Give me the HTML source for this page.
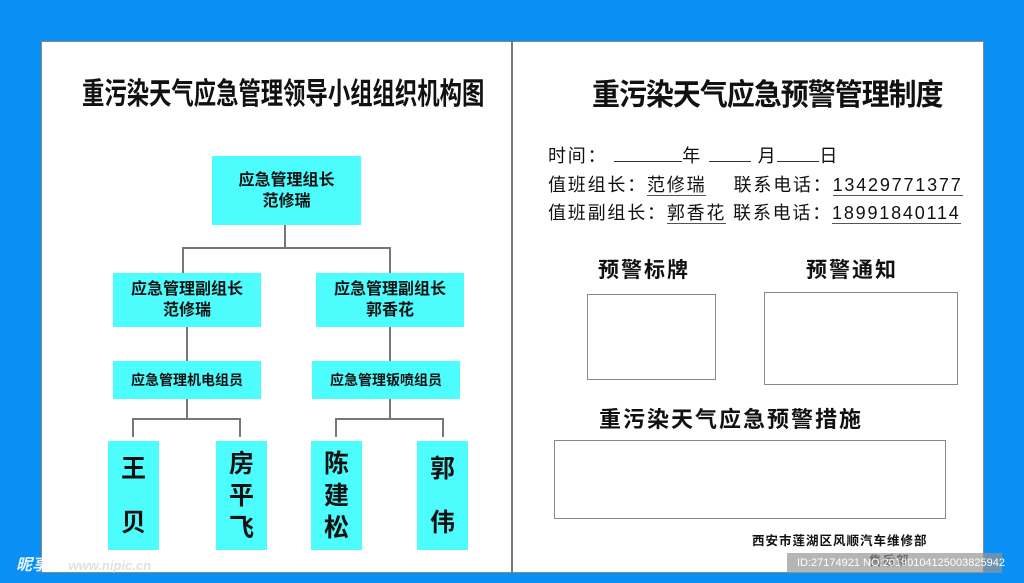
<!DOCTYPE html>
<html><head><meta charset="utf-8"><style>
*{margin:0;padding:0;box-sizing:border-box}
body{width:1024px;height:583px;background:#0a90f5;position:relative;overflow:hidden;font-family:"Liberation Sans","Noto Sans CJK SC",sans-serif;color:#111}
.a{position:absolute}
.w{left:41px;top:41px;width:943px;height:532px;background:#fff;border:1px solid #888}
.c{background:#4dfcfd;font-weight:bold;display:flex;align-items:center;justify-content:center;text-align:center;font-size:16px;line-height:21px}
.l{background:#777}
.b{border:1.5px solid #888;background:#fff}
.t{font-weight:bold;white-space:nowrap}
.n{font-size:25px;line-height:32px;flex-direction:column}
.u{border-bottom:1.5px solid #555}
.r{font-size:18px;line-height:24px;white-space:nowrap;letter-spacing:1.8px}
</style></head><body>
<div class="a w"></div>
<div class="a l" style="left:511px;top:41px;width:1.5px;height:532px"></div>

<div class="a t" style="left:82px;top:69px;font-size:30px;transform:scaleX(0.745);transform-origin:left">重污染天气应急管理领导小组组织机构图</div>
<div class="a t" style="left:592px;top:70px;font-size:30px;letter-spacing:-1px;transform:scaleX(0.93);transform-origin:left">重污染天气应急预警管理制度</div>

<div class="a c" style="left:212px;top:156px;width:149px;height:69px">应急管理组长<br>范修瑞</div>
<div class="a l" style="left:284px;top:225px;width:1.5px;height:23px"></div>
<div class="a l" style="left:182px;top:247px;width:208px;height:1.5px"></div>
<div class="a l" style="left:182px;top:247px;width:1.5px;height:26px"></div>
<div class="a l" style="left:389px;top:247px;width:1.5px;height:26px"></div>
<div class="a c" style="left:113px;top:273px;width:148px;height:54px">应急管理副组长<br>范修瑞</div>
<div class="a c" style="left:316px;top:273px;width:148px;height:54px">应急管理副组长<br>郭香花</div>
<div class="a l" style="left:186px;top:327px;width:1.5px;height:34px"></div>
<div class="a l" style="left:389px;top:327px;width:1.5px;height:34px"></div>
<div class="a c" style="left:113px;top:361px;width:148px;height:38px;font-size:14px">应急管理机电组员</div>
<div class="a c" style="left:312px;top:361px;width:148px;height:38px;font-size:14px">应急管理钣喷组员</div>
<div class="a l" style="left:186px;top:399px;width:1.5px;height:20px"></div>
<div class="a l" style="left:389px;top:399px;width:1.5px;height:20px"></div>
<div class="a l" style="left:132px;top:418px;width:108px;height:1.5px"></div>
<div class="a l" style="left:335px;top:418px;width:108px;height:1.5px"></div>
<div class="a l" style="left:132px;top:418px;width:1.5px;height:19px"></div>
<div class="a l" style="left:239px;top:418px;width:1.5px;height:19px"></div>
<div class="a l" style="left:335px;top:418px;width:1.5px;height:19px"></div>
<div class="a l" style="left:442px;top:418px;width:1.5px;height:19px"></div>
<div class="a c n" style="left:108px;top:441px;width:51px;height:109px"><span>王</span><span style="margin-top:22px">贝</span></div>
<div class="a c n" style="left:216px;top:441px;width:51px;height:109px">房<br>平<br>飞</div>
<div class="a c n" style="left:311px;top:441px;width:51px;height:109px">陈<br>建<br>松</div>
<div class="a c n" style="left:417px;top:441px;width:51px;height:109px"><span>郭</span><span style="margin-top:22px">伟</span></div>

<div class="a r" style="left:548px;top:144px">时间： <span style="display:inline-block;width:68px;border-bottom:1.5px solid #333;height:18px"></span>年 <span style="display:inline-block;width:42px;border-bottom:1.5px solid #333;height:18px"></span> 月<span style="display:inline-block;width:42px;border-bottom:1.5px solid #333;height:18px"></span>日</div>
<div class="a r" style="left:548px;top:173px">值班组长：<span class="u">范修瑞</span>&nbsp;&nbsp;&nbsp; 联系电话：<span class="u">13429771377</span></div>
<div class="a r" style="left:548px;top:201px">值班副组长：<span class="u">郭香花</span> 联系电话：<span class="u">18991840114</span></div>

<div class="a t" style="left:598px;top:254px;font-size:21px;letter-spacing:2px">预警标牌</div>
<div class="a t" style="left:806px;top:254px;font-size:21px;letter-spacing:2px">预警通知</div>
<div class="a b" style="left:587px;top:294px;width:129px;height:86px"></div>
<div class="a b" style="left:764px;top:292px;width:194px;height:93px"></div>
<div class="a t" style="left:599px;top:402px;font-size:22px;letter-spacing:2px">重污染天气应急预警措施</div>
<div class="a b" style="left:554px;top:440px;width:392px;height:79px"></div>
<div class="a t" style="left:752px;top:530px;font-size:12.5px;letter-spacing:1px">西安市莲湖区风顺汽车维修部</div>
<div class="a t" style="left:869px;top:550px;font-size:12.5px;letter-spacing:1px">售后部</div>
<div class="a" style="left:787px;top:553px;width:215px;height:20px;background:rgba(150,150,150,0.7);color:#fff;font-size:11px;line-height:20px;padding-left:10px;white-space:nowrap">ID:27174921 NO:20190104125003825942</div>
<div class="a" style="left:16px;top:551px;color:#fff;font-size:16px;font-weight:bold;font-style:italic;white-space:nowrap;opacity:0.9">昵享网 <span style="font-size:13px;color:#ddd">www.nipic.cn</span></div>
</body></html>
